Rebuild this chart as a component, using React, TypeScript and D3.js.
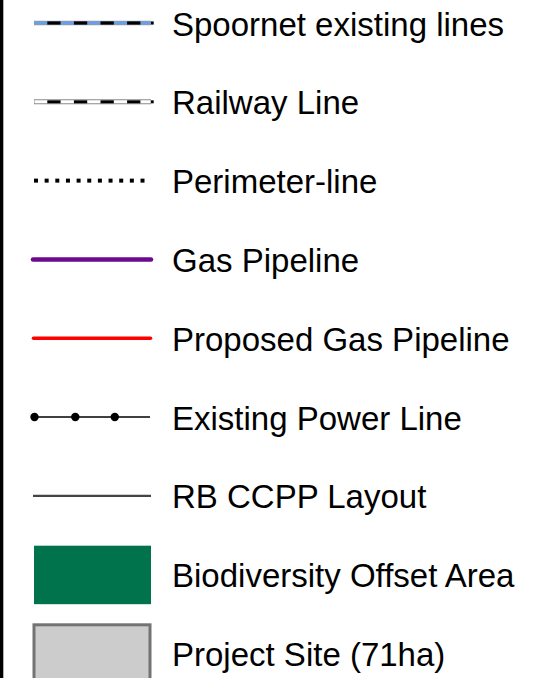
import React from "react";
import * as d3 from "d3";

const labels = [
  "Spoornet existing lines",
  "Railway Line",
  "Perimeter-line",
  "Gas Pipeline",
  "Proposed Gas Pipeline",
  "Existing Power Line",
  "RB CCPP Layout",
  "Biodiversity Offset Area",
  "Project Site (71ha)",
];
const kinds = ["spoornet", "railway", "perimeter", "gas", "proposed", "power", "layout", "bio", "site"];

const W = 543;
const H = 678;

export default function App() {
  const y = d3.scaleLinear().domain([0, 8]).range([23, 653.5]);
  const x0 = 34;
  const x1 = 150;
  const tx = 172;

  const sym = (k: string, cy: number) => {
    switch (k) {
      case "spoornet": {
        const segs = d3.range(x0, x1, 26.6);
        return (
          <g>
            <line x1={x0} x2={x1 + 1} y1={cy} y2={cy} stroke="#9a9a9a" strokeWidth={4.5} />
            <line x1={x0} x2={x1 + 1} y1={cy} y2={cy} stroke="#6a9ee6" strokeWidth={3.2} />
            {segs.map((s, i) => (
              <line key={i} x1={s + 13.3} x2={Math.min(s + 26.6, x1 + 1)} y1={cy} y2={cy} stroke="#000" strokeWidth={3.2} />
            ))}
          </g>
        );
      }
      case "railway": {
        const segs = d3.range(x0, x1, 26.6);
        return (
          <g>
            <line x1={x0} x2={x1 + 1} y1={cy} y2={cy} stroke="#8a8a8a" strokeWidth={5} />
            <line x1={x0 + 0.5} x2={x1 + 0.5} y1={cy} y2={cy} stroke="#fff" strokeWidth={3} />
            {segs.map((s, i) => (
              <line key={i} x1={s + 13.3} x2={Math.min(s + 26.6, x1 + 1)} y1={cy} y2={cy} stroke="#000" strokeWidth={3} />
            ))}
          </g>
        );
      }
      case "perimeter": {
        const dots = d3.range(0, 11);
        return (
          <g>
            {dots.map((i) => (
              <rect key={i} x={x0 + i * 10.65} y={cy - 2} width={4} height={4} fill="#000" />
            ))}
          </g>
        );
      }
      case "gas":
        return <line x1={33} x2={151} y1={cy} y2={cy} stroke="#6a0a8e" strokeWidth={4.5} strokeLinecap="round" />;
      case "proposed":
        return <line x1={33.5} x2={150.5} y1={cy} y2={cy} stroke="#ff0000" strokeWidth={3.5} strokeLinecap="round" />;
      case "power":
        return (
          <g>
            <line x1={x0} x2={x1} y1={cy} y2={cy} stroke="#000" strokeWidth={1.5} />
            {[34.5, 75.3, 114.8].map((cx, i) => (
              <circle key={i} cx={cx} cy={cy} r={4.2} fill="#000" />
            ))}
          </g>
        );
      case "layout":
        return <line x1={33} x2={151} y1={cy} y2={cy} stroke="#444" strokeWidth={2.2} />;
      case "bio":
        return <rect x={34} y={cy - 29} width={117} height={58.5} fill="#00734d" />;
      case "site":
        return <rect x={34} y={cy - 28.7} width={116} height={80} fill="#cccccc" stroke="#737373" strokeWidth={3} />;
      default:
        return null;
    }
  };

  return (
    <svg width={W} height={H} style={{ position: "absolute", left: 0, top: 0, background: "#fff" }}>
      <rect x={0} y={0} width={W} height={H} fill="#fff" />
      <rect x={0} y={0} width={3.3} height={H} fill="#000" />
      {labels.map((lab, i) => {
        const cy = y(i);
        return (
          <g key={lab}>
            {sym(kinds[i], cy)}
            <text
              x={tx}
              y={cy + 12.5}
              fontFamily="Liberation Sans, Arial, sans-serif"
              fontSize={33}
              fill="#000"
            >
              {lab}
            </text>
          </g>
        );
      })}
    </svg>
  );
}
